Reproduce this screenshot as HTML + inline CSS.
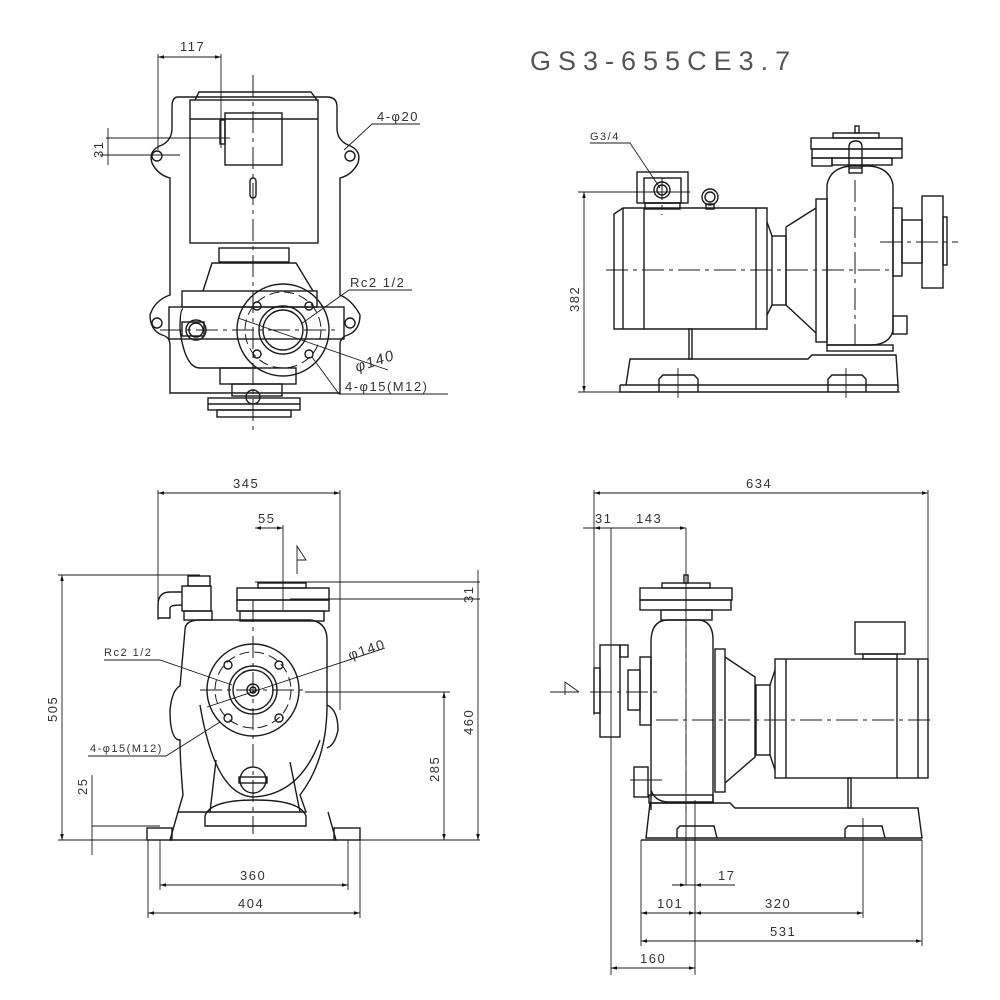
<!DOCTYPE html>
<html><head><meta charset="utf-8"><style>
html,body{margin:0;padding:0;background:#fff}
svg{display:block}
text{font-family:"Liberation Sans",sans-serif;fill:#333;font-size:13px;letter-spacing:1.5px}
.l{stroke:#1a1a1a;stroke-width:1.4;fill:none}
.t{stroke:#1a1a1a;stroke-width:0.9;fill:none}
.c{stroke:#1a1a1a;stroke-width:1;fill:none;stroke-dasharray:22 5 4 5}
.d{stroke:#1a1a1a;stroke-width:1;fill:none;stroke-dasharray:10 5}
</style></head><body>
<svg width="1000" height="1000" viewBox="0 0 1000 1000" xmlns="http://www.w3.org/2000/svg">
<defs>
<marker id="a" viewBox="0 0 10 6" refX="10" refY="3" markerWidth="8" markerHeight="4" orient="auto-start-reverse"><path d="M0,0L10,3L0,6z" fill="#111"/></marker>
</defs>

<text x="530" y="70" style="font-size:27px;letter-spacing:7px;fill:#555">GS3-655CE3.7</text>

<!-- ============ TOP LEFT VIEW ============ -->
<g>
<line class="t" x1="158" y1="57" x2="221" y2="57" marker-start="url(#a)" marker-end="url(#a)"/>
<text x="180" y="51">117</text>
<line class="t" x1="158" y1="54" x2="158" y2="150"/>
<line class="t" x1="221" y1="54" x2="221" y2="148"/>
<line class="t" x1="106" y1="138" x2="230" y2="138"/>
<line class="t" x1="106" y1="155" x2="180" y2="155"/>
<line class="t" x1="108" y1="128" x2="108" y2="165"/>
<text transform="translate(103,158) rotate(-90)">31</text>
<path class="l" d="M178,97 H327 Q337,97 337,107 V128 Q337,140 348,145 Q362,150 358,163 Q352,175 340,178 V295 Q352,300 360,315 Q360,330 348,335 Q340,337 340,345 V393 H170 V345 Q170,337 162,335 Q150,330 150,315 Q155,300 170,295 V178 Q158,175 152,163 Q148,150 162,145 Q172,140 172,128 V107 Q172,97 178,97Z"/>
<circle class="l" cx="157" cy="156" r="5"/><circle class="l" cx="350" cy="156" r="5"/>
<circle class="l" cx="157" cy="323" r="5"/><circle class="l" cx="350" cy="323" r="5"/>
<path class="l" d="M195,100 L199,92 H311 L317,100"/>
<rect class="l" x="190" y="100" width="128" height="143"/>
<line class="l" x1="190" y1="119" x2="318" y2="119"/>
<rect class="l" x="225" y="113" width="57" height="52"/>
<rect class="l" x="220" y="120" width="5" height="24"/>
<rect class="l" x="250" y="178" width="6" height="20" rx="3"/>
<rect class="l" x="219" y="248" width="70" height="14"/>
<path class="l" d="M203,291 L212,263 H296 L313,291"/>
<rect class="l" x="182" y="291" width="135" height="16"/>
<rect class="l" x="169" y="307" width="175" height="32"/>
<path class="l" d="M183,309 Q180,309 180,330 Q185,368 200,368 H256"/>
<rect class="l" x="182" y="322" width="22" height="14"/>
<circle class="l" cx="196" cy="330" r="10"/><circle class="l" cx="196" cy="330" r="7"/>
<rect class="l" x="220" y="368" width="76" height="16"/>
<rect class="l" x="232" y="384" width="50" height="12"/>
<rect class="l" x="208" y="398" width="92" height="12"/>
<line class="l" x1="208" y1="404" x2="300" y2="404"/>
<rect class="l" x="217" y="410" width="74" height="7"/>
<circle class="l" cx="253" cy="397" r="7"/>
<circle class="l" cx="283" cy="330" r="46" fill="#fff"/>
<circle class="d" cx="283" cy="330" r="38"/>
<circle class="l" cx="283" cy="330" r="24"/>
<circle class="l" cx="283" cy="330" r="20"/>
<circle class="l" cx="257" cy="306" r="4"/><circle class="l" cx="309" cy="306" r="4"/>
<circle class="l" cx="257" cy="354" r="4"/><circle class="l" cx="309" cy="354" r="4"/>
<line class="c" x1="253" y1="75" x2="253" y2="432"/>
<line class="c" x1="160" y1="330" x2="340" y2="330"/>
<line class="c" x1="100" y1="155" x2="180" y2="155"/>
<polyline class="t" points="344,150 372,124 420,124"/>
<text x="377" y="121">4-φ20</text>
<polyline class="t" points="301,324 349,290 412,290"/>
<text x="350" y="287">Rc2 1/2</text>
<line class="t" x1="238" y1="318" x2="388" y2="370"/>
<text transform="translate(357,372) rotate(-18)" style="font-size:15px;font-style:italic">φ140</text>
<polyline class="t" points="312,357 339,394 448,394"/>
<text x="345" y="391">4-φ15(M12)</text>
</g>

<!-- ============ TOP RIGHT VIEW ============ -->
<g>
<polyline class="t" points="590,143 630,143 660,188"/>
<text x="590" y="140" style="font-size:11px">G3/4</text>
<line class="t" x1="584" y1="192" x2="584" y2="392" marker-start="url(#a)" marker-end="url(#a)"/>
<line class="t" x1="578" y1="192" x2="690" y2="192"/>
<line class="t" x1="578" y1="392" x2="900" y2="392"/>
<text transform="translate(579,312) rotate(-90)">382</text>
<rect class="l" x="637" y="172" width="51" height="31"/>
<rect class="l" x="644" y="178" width="37" height="25"/>
<rect class="l" x="645" y="203" width="35" height="6"/>
<circle class="l" cx="662" cy="190" r="8"/><circle class="l" cx="662" cy="190" r="5"/>
<circle class="l" cx="710" cy="197" r="8"/><circle class="l" cx="710" cy="197" r="5"/>
<rect class="l" x="706" y="204" width="8" height="5"/>
<path class="l" d="M614,214 L623,208 H767 V329 H614 Z"/>
<line class="l" x1="623" y1="208" x2="623" y2="329"/>
<line class="l" x1="644" y1="208" x2="644" y2="329"/>
<line class="l" x1="756" y1="208" x2="756" y2="329"/>
<path class="l" d="M767,222 L772,236 M767,315 L772,305"/>
<rect class="l" x="772" y="236" width="14" height="69"/>
<path class="l" d="M786,227 L816,208 M786,305 L816,333 M786,227 V305"/>
<rect class="l" x="816" y="199" width="11" height="143"/>
<path class="l" d="M827,345 V185 Q830,168 850,166 H870 Q890,168 893,185 V330 Q890,345 870,345 Z"/>
<rect class="l" x="893" y="208" width="9" height="68"/>
<rect class="l" x="902" y="220" width="20" height="43"/>
<rect class="l" x="922" y="196" width="21" height="92"/>
<rect class="l" x="943" y="217" width="4" height="48"/>
<rect class="l" x="811" y="138" width="91" height="11"/>
<rect class="l" x="812" y="149" width="90" height="9"/>
<rect class="l" x="812" y="158" width="20" height="8"/>
<rect class="l" x="832" y="158" width="60" height="7"/>
<rect class="l" x="833" y="133" width="46" height="5"/>
<rect class="l" x="855" y="126" width="4" height="7"/>
<path class="l" d="M849,168 V147 Q849,141 856,141 Q862,141 862,147 V168"/>
<rect class="l" x="849" y="168" width="13" height="5"/>
<rect class="l" x="893" y="316" width="14" height="18"/>
<rect class="l" x="827" y="345" width="66" height="6"/>
<path class="l" d="M626,385 L630,359 H808 L812,355 H896 L898,385 M620,385 H898 M620,385 V392 H898 V385"/>
<path class="l" d="M659,392 V379 L663,375 H694 L698,379 V392 M828,392 V379 L832,375 H862 L866,379 V392"/>
<rect class="l" x="689" y="329" width="3" height="30"/>
<line class="c" x1="606" y1="270" x2="890" y2="270"/>
<line class="c" x1="855" y1="180" x2="855" y2="345"/>
<line class="c" x1="880" y1="242" x2="958" y2="242"/>
<line class="c" x1="662" y1="178" x2="662" y2="215"/>
<line class="t" x1="678" y1="368" x2="678" y2="398"/><line class="t" x1="846" y1="368" x2="846" y2="398"/>
</g>

<!-- ============ BOTTOM LEFT VIEW ============ -->
<g>
<line class="t" x1="158" y1="493" x2="340" y2="493" marker-start="url(#a)" marker-end="url(#a)"/>
<text x="233" y="488">345</text>
<line class="t" x1="158" y1="490" x2="158" y2="620"/>
<line class="t" x1="340" y1="490" x2="340" y2="710"/>
<line class="t" x1="255" y1="528" x2="283" y2="528" marker-start="url(#a)" marker-end="url(#a)"/>
<text x="258" y="523">55</text>
<line class="t" x1="283" y1="525" x2="283" y2="610"/>
<path class="t" d="M297,574 V546 L306,560 H297"/>
<line class="t" x1="62" y1="575" x2="62" y2="840" marker-start="url(#a)" marker-end="url(#a)"/>
<text transform="translate(57,722) rotate(-90)">505</text>
<line class="t" x1="58" y1="575" x2="200" y2="575"/>
<line class="t" x1="58" y1="840" x2="480" y2="840"/>
<line class="t" x1="478" y1="570" x2="478" y2="840" marker-end="url(#a)"/>
<line class="t" x1="255" y1="582" x2="480" y2="582"/>
<line class="t" x1="290" y1="599" x2="480" y2="599"/>
<text transform="translate(473,603) rotate(-90)">31</text>
<text transform="translate(473,735) rotate(-90)">460</text>
<line class="t" x1="444" y1="692" x2="444" y2="840" marker-start="url(#a)" marker-end="url(#a)"/>
<line class="t" x1="305" y1="692" x2="450" y2="692"/>
<text transform="translate(439,782) rotate(-90)">285</text>
<line class="t" x1="92" y1="775" x2="92" y2="855"/>
<line class="t" x1="92" y1="826" x2="160" y2="826"/>
<text transform="translate(87,795) rotate(-90)">25</text>
<rect class="l" x="188" y="576" width="22" height="10"/>
<rect class="l" x="182" y="586" width="29" height="25"/>
<path class="l" d="M182,592 H170 Q158,592 158,605 V618 H170 V608 Q170,605 182,605"/>
<rect class="l" x="184" y="611" width="28" height="9"/>
<rect class="l" x="258" y="583" width="48" height="5"/>
<rect class="l" x="237" y="588" width="92" height="12"/>
<rect class="l" x="237" y="600" width="92" height="11"/>
<rect class="l" x="240" y="611" width="84" height="10"/>
<path class="l" d="M185,630 Q185,620 200,620 H310 Q327,622 327,640 V705 Q327,760 300,795 L306,812 H178 L183,795 Q180,760 180,740 Q170,740 170,710 Q172,690 180,686 Z"/>
<path class="l" d="M327,705 Q338,710 338,730 Q335,745 327,748"/>
<path class="l" d="M200,705 Q215,795 253,797 Q300,795 320,740" />
<path class="l" d="M205,816 Q210,800 255,800 Q300,800 306,816 V826 H205 Z"/>
<line class="l" x1="210" y1="812" x2="216" y2="760"/><line class="l" x1="300" y1="812" x2="290" y2="762"/>
<circle class="l" cx="253" cy="780" r="13"/>
<rect class="l" x="239" y="777" width="28" height="6"/>
<path class="l" d="M178,812 L170,840 H336 L328,812"/>
<rect class="l" x="147" y="828" width="25" height="12"/>
<rect class="l" x="334" y="828" width="26" height="12"/>
<circle class="l" cx="253" cy="690" r="46" fill="#fff"/>
<circle class="d" cx="253" cy="690" r="38"/>
<circle class="l" cx="253" cy="690" r="24"/><circle class="l" cx="253" cy="690" r="20"/>
<circle class="l" cx="253" cy="690" r="6"/><circle class="l" cx="253" cy="690" r="3"/>
<circle class="l" cx="228" cy="665" r="4"/><circle class="l" cx="279" cy="665" r="4"/>
<circle class="l" cx="228" cy="718" r="4"/><circle class="l" cx="279" cy="718" r="4"/>
<line class="c" x1="253" y1="600" x2="253" y2="834"/>
<line class="c" x1="200" y1="690" x2="305" y2="690"/>
<polyline class="t" points="104,660 160,660 232,685"/>
<text x="104" y="656" style="font-size:11px">Rc2 1/2</text>
<line class="t" x1="207" y1="707" x2="385" y2="648"/>
<text transform="translate(350,660) rotate(-18)" style="font-size:14px">φ140</text>
<polyline class="t" points="88,756 166,756 220,722"/>
<text x="90" y="752" style="font-size:11px">4-φ15(M12)</text>
<line class="t" x1="160" y1="840" x2="160" y2="890"/>
<line class="t" x1="348" y1="840" x2="348" y2="890"/>
<line class="t" x1="148" y1="840" x2="148" y2="918"/>
<line class="t" x1="360" y1="840" x2="360" y2="918"/>
<line class="t" x1="160" y1="885" x2="348" y2="885" marker-start="url(#a)" marker-end="url(#a)"/>
<text x="240" y="880">360</text>
<line class="t" x1="148" y1="913" x2="360" y2="913" marker-start="url(#a)" marker-end="url(#a)"/>
<text x="238" y="908">404</text>
</g>

<!-- ============ BOTTOM RIGHT VIEW ============ -->
<g>
<line class="t" x1="594" y1="493" x2="928" y2="493" marker-start="url(#a)" marker-end="url(#a)"/>
<text x="746" y="488">634</text>
<line class="t" x1="594" y1="490" x2="594" y2="715"/>
<line class="t" x1="928" y1="490" x2="928" y2="660"/>
<line class="t" x1="583" y1="528" x2="686" y2="528" marker-end="url(#a)"/>
<line class="t" x1="594" y1="528" x2="611" y2="528" marker-start="url(#a)"/>
<text x="595" y="523">31</text><text x="636" y="523">143</text>
<line class="t" x1="611" y1="528" x2="611" y2="975"/>
<line class="t" x1="686" y1="528" x2="686" y2="885"/>
<line class="t" x1="695" y1="800" x2="695" y2="975"/>
<path class="t" d="M550,692 H579 M579,692 L565,682 V695"/>
<rect class="l" x="684" y="575" width="4" height="8"/>
<rect class="l" x="662" y="583" width="48" height="5"/>
<rect class="l" x="640" y="588" width="92" height="12"/>
<rect class="l" x="640" y="600" width="91" height="10"/>
<rect class="l" x="661" y="610" width="51" height="10"/>
<path class="l" d="M651,810 V640 Q652,620 668,620 H700 Q713,622 713,640 V802 H669 Q655,802 651,790"/>
<rect class="l" x="600" y="645" width="20" height="92"/>
<rect class="l" x="594" y="668" width="6" height="45"/>
<rect class="l" x="620" y="645" width="8" height="12"/>
<rect class="l" x="628" y="670" width="12" height="40"/>
<rect class="l" x="640" y="657" width="11" height="68"/>
<rect class="l" x="715" y="649" width="10" height="143"/>
<path class="l" d="M725,657 L755,677 V757 L725,783"/>
<rect class="l" x="756" y="685" width="14" height="70"/>
<path class="l" d="M770,685 L775,670 M770,755 L775,770"/>
<rect class="l" x="775" y="659" width="153" height="119"/>
<line class="l" x1="786" y1="659" x2="786" y2="778"/>
<line class="l" x1="897" y1="659" x2="897" y2="778"/>
<line class="l" x1="918" y1="659" x2="918" y2="778"/>
<rect class="l" x="855" y="622" width="50" height="32"/>
<rect class="l" x="863" y="654" width="34" height="5"/>
<rect class="l" x="848" y="778" width="3" height="30"/>
<rect class="l" x="634" y="767" width="14" height="30"/>
<line class="t" x1="630" y1="780" x2="662" y2="780"/>
<rect class="l" x="649" y="795" width="64" height="8"/>
<path class="l" d="M646,838 L650,803 H730 L735,808 H918 L922,838 Z"/>
<path class="l" d="M677,838 V829 L680,826 H714 L717,838 M845,838 V829 L848,826 H882 L885,838"/>
<line class="l" x1="641" y1="840" x2="922" y2="840"/>
<line class="c" x1="656" y1="720" x2="935" y2="720"/>
<line class="c" x1="686" y1="590" x2="686" y2="810"/>
<line class="c" x1="590" y1="692" x2="660" y2="692"/>
<line class="t" x1="641" y1="840" x2="641" y2="946"/>
<line class="t" x1="922" y1="840" x2="922" y2="946"/>
<line class="t" x1="863" y1="818" x2="863" y2="918"/>
<line class="t" x1="672" y1="885" x2="735" y2="885"/>
<line class="t" x1="672" y1="885" x2="686" y2="885" marker-end="url(#a)"/>
<line class="t" x1="710" y1="885" x2="695" y2="885" marker-end="url(#a)"/>
<text x="718" y="880">17</text>
<line class="t" x1="641" y1="913" x2="695" y2="913" marker-start="url(#a)" marker-end="url(#a)"/>
<line class="t" x1="695" y1="913" x2="863" y2="913" marker-start="url(#a)" marker-end="url(#a)"/>
<text x="657" y="908">101</text><text x="765" y="908">320</text>
<line class="t" x1="641" y1="941" x2="922" y2="941" marker-start="url(#a)" marker-end="url(#a)"/>
<text x="770" y="936">531</text>
<line class="t" x1="611" y1="968" x2="695" y2="968" marker-start="url(#a)" marker-end="url(#a)"/>
<text x="640" y="963">160</text>
</g>
</svg>
</body></html>
